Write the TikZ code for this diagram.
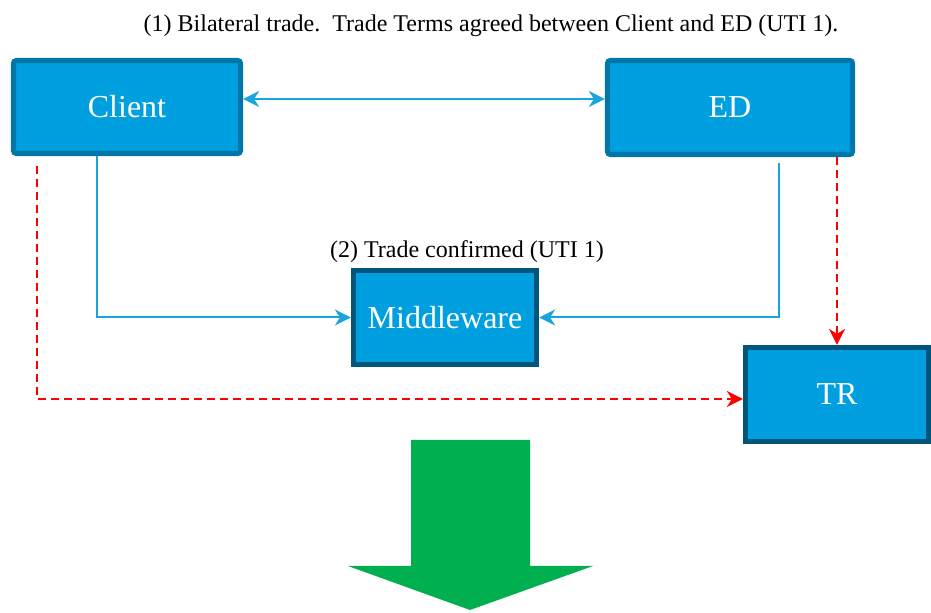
\documentclass[tikz,border=0pt]{standalone}
\usepackage{fontspec}
\setmainfont{LiberationSerif}[Extension=.ttf, UprightFont=*-Regular, BoldFont=*-Bold]
\usetikzlibrary{arrows.meta}
\definecolor{boxfill}{HTML}{00A0E0}
\definecolor{edgeA}{HTML}{0077A8}
\definecolor{edgeB}{HTML}{00557A}
\definecolor{flow}{HTML}{1AA3E0}
\definecolor{bigarrow}{HTML}{00B050}
\begin{document}
\begin{tikzpicture}[x=0.5pt,y=-0.5pt,
 >={Stealth[length=8pt,width=8pt,inset=2.5pt]},
 party/.style={draw=edgeA, fill=boxfill, line width=2.6pt, rounded corners=1.5pt, text=white, font=\fontsize{16}{19}\selectfont, inner sep=0pt},
 system/.style={party, draw=edgeB, rounded corners=0pt},
 flowline/.style={draw=flow, line width=1pt},
 report/.style={draw=red, line width=1pt, dash pattern=on 4pt off 2.5pt},
 note/.style={font=\fontsize{12}{14}\selectfont, inner sep=0pt, anchor=base}]
\useasboundingbox (0,0) rectangle (931,613);
\node[party, minimum width=113.5pt, minimum height=46.5pt] (Client) at (127,107) {Client};
\node[party, minimum width=122.5pt, minimum height=47pt] (ED) at (730,107.5) {ED};
\node[system, minimum width=91.5pt, minimum height=47pt] (MW) at (445,317.5) {Middleware};
\node[system, minimum width=91.5pt, minimum height=47pt] (TR) at (837,394.5) {TR};
\node[note] (n1) at (491,31.5) {(1) Bilateral trade.\ \ Trade Terms agreed between Client and ED (UTI 1).};
\node[note] (n2) at (467,258) {(2) Trade confirmed (UTI 1)};
\coordinate (yTop) at (0,99);
\coordinate (cx) at (97,0);
\coordinate (edStart) at (779,163);
\coordinate (redStart) at (37,166);
\coordinate (yRed) at (0,399);
\draw[flowline,<->] (Client.east |- yTop) -- (ED.west |- yTop);
\draw[flowline,->] (Client.south -| cx) |- (MW.west);
\draw[flowline,->] (edStart) |- (MW.east);
\draw[report,->] (redStart) |- (TR.west |- yRed);
\draw[report,->] (ED.south -| TR.north) -- (TR.north);
\fill[bigarrow] (411,440) -- (530,440) -- (530,566) -- (593,566) -- (470,610) -- (348,566) -- (411,566) -- cycle;
\end{tikzpicture}
\end{document}
